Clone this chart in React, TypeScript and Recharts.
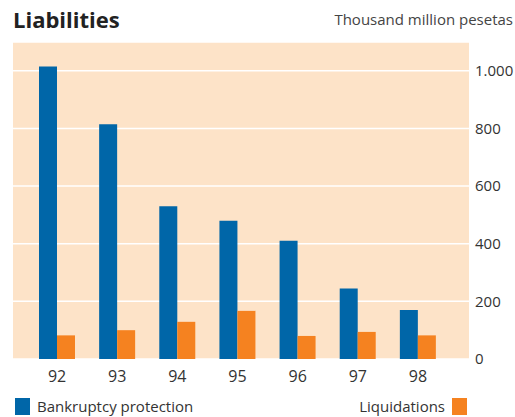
import { Bar, BarChart, CartesianGrid, XAxis, YAxis } from "recharts"

const years = ["92", "93", "94", "95", "96", "97", "98"]
const bankruptcy = [1015, 815, 530, 480, 410, 245, 170]
const liquidations = [82, 100, 129, 167, 80, 94, 82]
const yTicks = [0, 200, 400, 600, 800, 1000]

const data = years.map((year, i) => ({
  year,
  bankruptcy: bankruptcy[i],
  liquidations: liquidations[i],
}))

const font = "'Open Sans', sans-serif"
const blue = "#0066a8"
const orange = "#f58220"

const fmt = (v: number) => (v >= 1000 ? v.toLocaleString("de-DE") : String(v))

export default function App() {
  return (
    <div
      style={{
        position: "absolute",
        left: 0,
        top: 0,
        width: 515,
        height: 417,
        overflow: "hidden",
        background: "#fff",
        fontFamily: font,
      }}
    >
      <div
        style={{
          position: "absolute",
          left: 13,
          top: 4,
          fontSize: 22,
          fontWeight: 700,
          color: "#222",
        }}
      >
        Liabilities
      </div>
      <div
        style={{
          position: "absolute",
          right: 2,
          top: 9,
          fontSize: 15,
          color: "#444",
        }}
      >
        Thousand million pesetas
      </div>
      <BarChart
        width={515}
        height={417}
        data={data}
        margin={{ top: 42, left: 13, right: 0, bottom: 28 }}
        barGap={0}
        barSize={18}
      >
        <CartesianGrid
          vertical={false}
          stroke="#fff"
          strokeWidth={1.5}
          fill="#fde3c8"
          fillOpacity={1}
        />
        <XAxis
          dataKey="year"
          axisLine={false}
          tickLine={false}
          height={30}
          padding={{ left: 14, right: 21 }}
          tick={{ fontSize: 16, fill: "#333", fontFamily: font }}
          tickMargin={6}
        />
        <YAxis
          orientation="right"
          domain={[0, 1100]}
          ticks={yTicks}
          width={46}
          axisLine={false}
          tickLine={false}
          tickSize={0}
          tickMargin={6}
          tickFormatter={fmt}
          tick={{ fontSize: 15, fill: "#333", fontFamily: font }}
        />
        <Bar dataKey="bankruptcy" fill={blue} isAnimationActive={false} />
        <Bar dataKey="liquidations" fill={orange} isAnimationActive={false} />
      </BarChart>
      <div
        style={{
          position: "absolute",
          left: 15,
          top: 396,
          display: "flex",
          alignItems: "center",
          fontSize: 15,
          lineHeight: "20px",
          color: "#333",
        }}
      >
        <span style={{ width: 15, height: 17, background: blue, marginRight: 7 }} />
        Bankruptcy protection
      </div>
      <div
        style={{
          position: "absolute",
          right: 48,
          top: 396,
          display: "flex",
          alignItems: "center",
          fontSize: 15,
          lineHeight: "20px",
          color: "#333",
        }}
      >
        Liquidations
        <span style={{ width: 15, height: 17, background: orange, marginLeft: 7 }} />
      </div>
    </div>
  )
}
